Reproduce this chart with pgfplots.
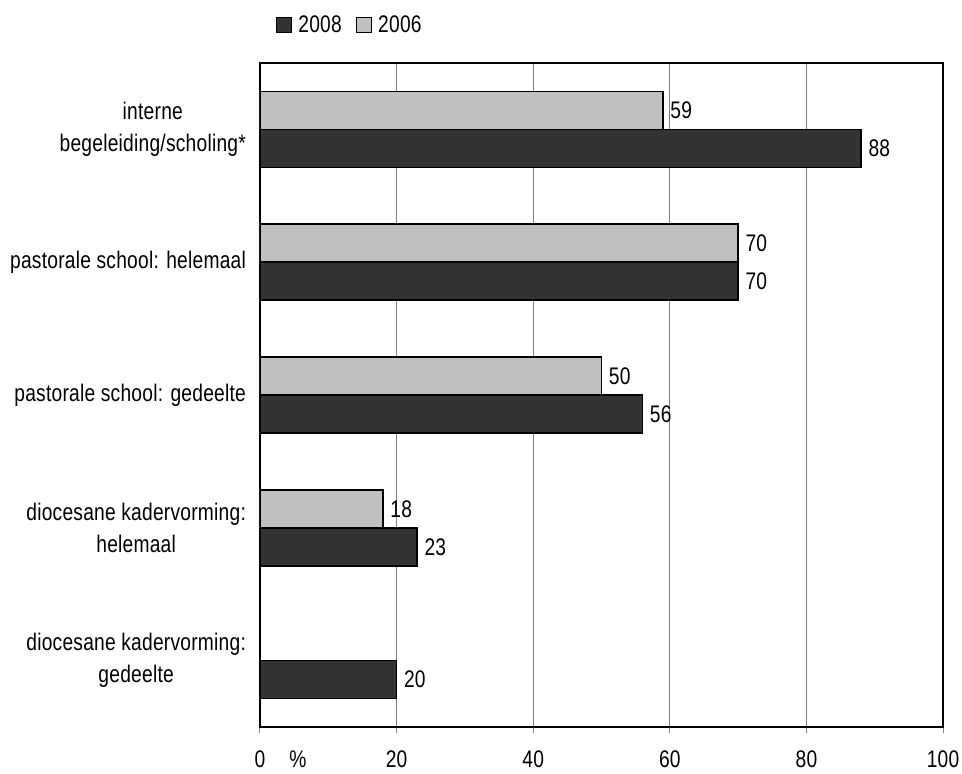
\documentclass[border=0pt]{standalone}
\usepackage{pgfplots}
\pgfplotsset{compat=1.18}
\usepackage{fontspec}
\setmainfont{Liberation Sans}[FakeStretch=0.8, LetterSpace=1]
\definecolor{darkbar}{HTML}{333333}
\definecolor{lightbar}{HTML}{C0C0C0}
\begin{document}
\begin{tikzpicture}[x=1pt,y=1pt]
\path[use as bounding box] (-130,-23) rectangle (351,363.5);
\begin{axis}[
  at={(0,0)}, anchor=south west,
  scale only axis,
  width=341.5pt, height=332pt,
  xmin=0, xmax=100,
  ymin=-0.5, ymax=4.5,
  xbar,
  bar width=0.286,
  font=\fontsize{12}{16}\selectfont,
  /pgf/number format/assume math mode=true,
  xtick={0,20,40,60,80,100},
  xticklabels={0\rlap{\quad\%},20,40,60,80,100},
  xtick pos=bottom,
  tick align=outside,
  major tick length=3pt,
  x tick style={gray, line width=0.5pt},
  xticklabel style={yshift=-5.5pt},
  ytick={0,1,2,3,4},
  yticklabels={{diocesane kadervorming:\\gedeelte},{diocesane kadervorming:\\helemaal},{pastorale school: gedeelte},{pastorale school: helemaal},{interne\\begeleiding/scholing*}},
  yticklabel style={align=center, xshift=-0.5pt},
  y tick style={draw=none},
  xmajorgrids,
  major grid style={gray, line width=0.6pt},
  axis line style={black, line width=1pt},
  nodes near coords,
  nodes near coords style={font=\fontsize{12}{16}\selectfont, anchor=west},
  legend columns=2,
  legend style={at={(0.133,1.057)}, anchor=center, draw=none, fill=none,
    font=\fontsize{12}{16}\selectfont,
    /tikz/every odd column/.append style={column sep=1pt},
    /tikz/every even column/.append style={column sep=5pt},
    inner sep=0pt},
  legend cell align=left,
]
\addplot[fill=darkbar, draw=black, line width=0.8pt, bar shift=-0.143,
  legend image code/.code={\draw[fill=darkbar,draw=black,line width=0.6pt] (0pt,-3.8pt) rectangle (7.6pt,3.8pt);}]
  coordinates {(20,0) (23,1) (56,2) (70,3) (88,4)};
\addlegendentry{2008}
\addplot[fill=lightbar, draw=black, line width=0.8pt, bar shift=0.143,
  legend image code/.code={\draw[fill=lightbar,draw=black,line width=0.6pt] (0pt,-3.8pt) rectangle (7.6pt,3.8pt);}]
  coordinates {(18,1) (50,2) (70,3) (59,4)};
\addlegendentry{2006}
\end{axis}
\end{tikzpicture}
\end{document}
